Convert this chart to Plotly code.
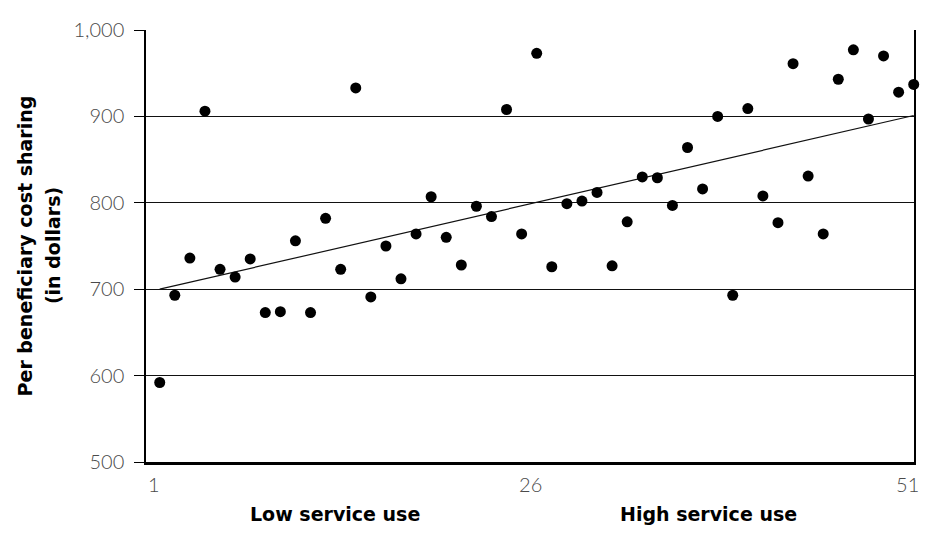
import plotly.graph_objects as go

# Data
rank = list(range(1, 52))
cost_sharing = [592, 693, 736, 906, 723, 714, 735, 673, 674, 756,
                673, 782, 723, 933, 691, 750, 712, 764, 807, 760,
                728, 796, 784, 908, 764, 973, 726, 799, 802, 812,
                727, 778, 830, 829, 797, 864, 816, 900, 693, 909,
                808, 777, 961, 831, 764, 943, 977, 897, 970, 928, 937]
trend_x = [1, 51]
trend_y = [700, 901]
x_ticks = [1, 26, 51]
y_ticks = [500, 600, 700, 800, 900, 1000]
y_title_1 = "Per beneficiary cost sharing"
y_title_2 = "(in dollars)"
low_label = "Low service use"
high_label = "High service use"

fig = go.Figure()
fig.add_trace(go.Scatter(x=trend_x, y=trend_y, mode="lines",
                         line=dict(color="#111", width=1.2),
                         hoverinfo="skip", showlegend=False))
fig.add_trace(go.Scatter(x=rank, y=cost_sharing, mode="markers",
                         marker=dict(color="black", size=11),
                         cliponaxis=False, showlegend=False))

tick_font = dict(size=20, color="#4a4a4a", family="Lato", weight=300)
bold_font = dict(size=19, color="black", family="DejaVu Sans", weight="bold")

fig.update_layout(
    width=920, height=527,
    margin=dict(l=137.5, r=9, t=14, b=73),
    plot_bgcolor="white", paper_bgcolor="white",
    font=dict(family="Lato", color="#4a4a4a"),
    separators=".,",
    xaxis=dict(range=[0.09, 51.02], tickvals=x_ticks, ticktext=[str(v) for v in x_ticks],
               showgrid=False, zeroline=False,
               showline=True, linecolor="black", linewidth=2.5,
               ticks="outside", ticklen=3, tickcolor="rgba(0,0,0,0)",
               ticklabeloverflow="allow", ticklabelshift=-6,
               tickfont=tick_font),
    yaxis=dict(range=[500, 1000], tickvals=y_ticks, tickformat=",d",
               showgrid=True, gridcolor="#111", gridwidth=1.3,
               zeroline=False, showline=True, mirror=True,
               linecolor="black", linewidth=1.5,
               ticks="outside", ticklen=10, tickcolor="black", tickwidth=1.3,
               ticklabelstandoff=6,
               tickfont=tick_font),
    annotations=[
        dict(text=y_title_1, xref="paper", yref="paper", x=-0.157, y=0.5,
             textangle=-90, showarrow=False, xanchor="center", yanchor="middle",
             font=dict(size=19, color="black", family="DejaVu Sans", weight="bold")),
        dict(text=y_title_2, xref="paper", yref="paper", x=-0.121, y=0.5,
             textangle=-90, showarrow=False, xanchor="center", yanchor="middle",
             font=dict(size=19, color="black", family="DejaVu Sans", weight="bold")),
        dict(text=low_label, xref="paper", yref="paper",
             x=0.246, y=-0.12, showarrow=False, xanchor="center", yanchor="middle",
             font=bold_font),
        dict(text=high_label, xref="paper", yref="paper",
             x=0.732, y=-0.12, showarrow=False, xanchor="center", yanchor="middle",
             font=bold_font),
    ],
)

fig.write_html("out.html")
